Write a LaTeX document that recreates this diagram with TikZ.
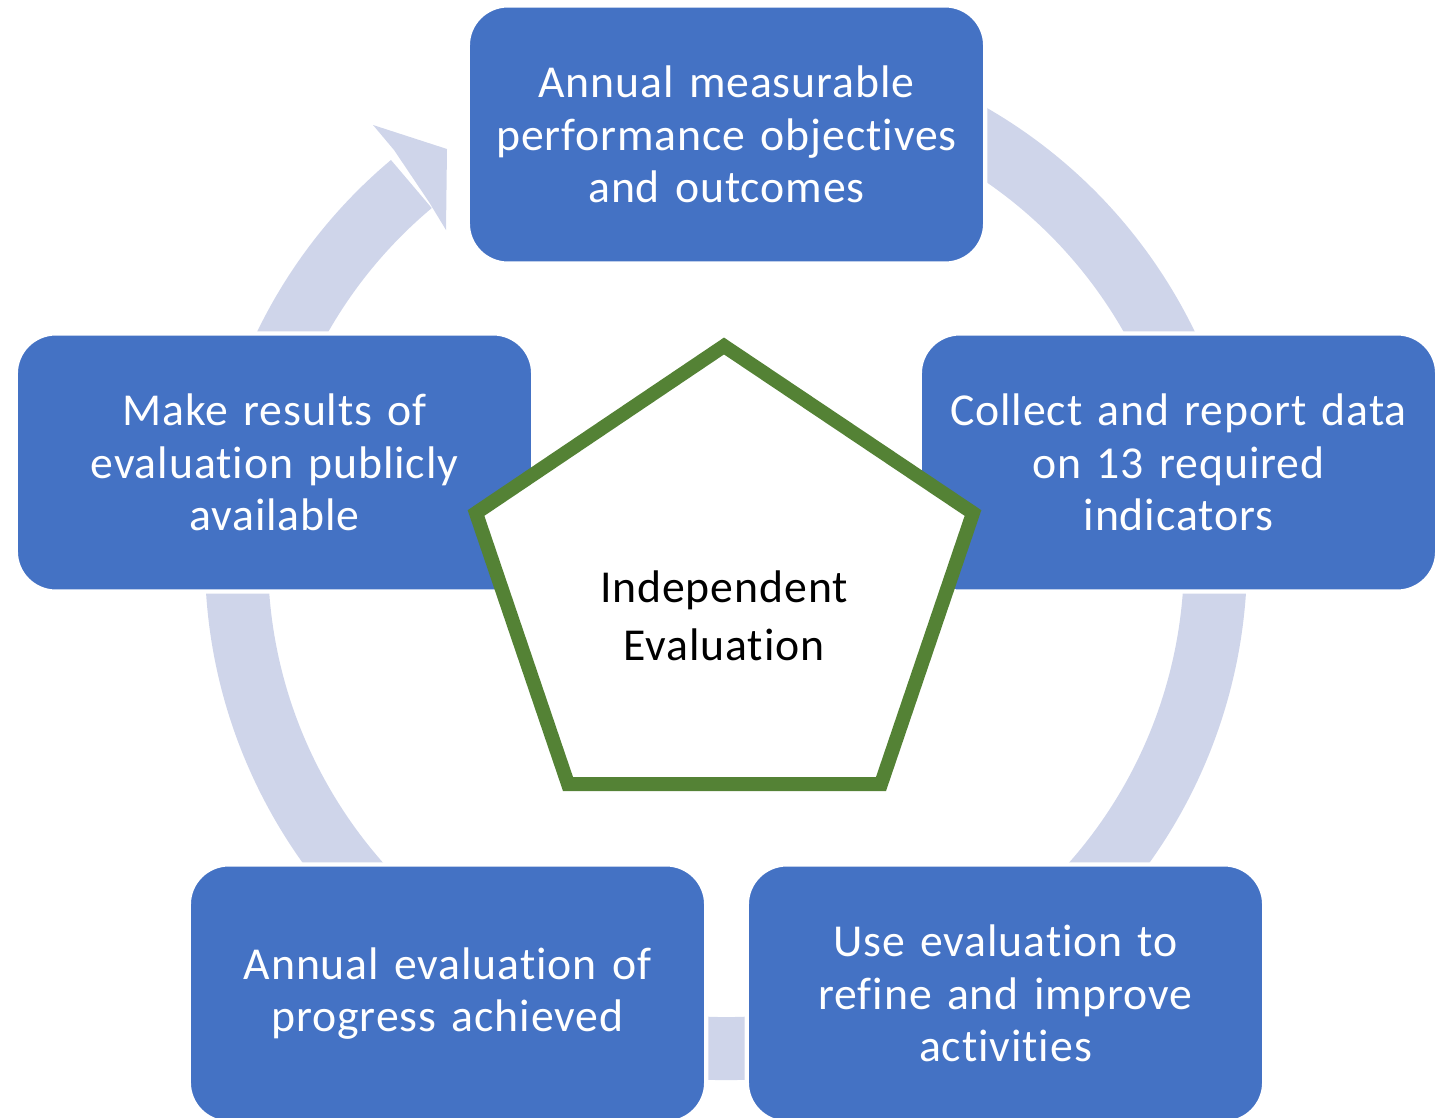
\documentclass[tikz,border=0pt]{standalone}
\usepackage{fontspec}
\setmainfont{Carlito}[Ligatures=NoCommon,LetterSpace=2,WordSpace=0.85]
\usetikzlibrary{calc}
\definecolor{boxblue}{RGB}{68,114,196}
\definecolor{ringblue}{RGB}{207,213,234}
\definecolor{pentgreen}{RGB}{84,130,53}

\begin{document}
\begin{tikzpicture}[x=0.01cm,y=-0.01cm,line join=miter,
stepbox/.style={draw=white,line width=1.2pt,fill=boxblue,rounded corners=0.4cm,
minimum width=5.17cm,minimum height=2.58cm,text width=5cm,align=center,
text=white,inner sep=0pt,font=\fontsize{13}{15}\selectfont}]
\useasboundingbox (0,0) rectangle (1445,1118);
\clip (0,0) rectangle (1445,1118);
\coordinate (c) at (726,559);
\draw[ringblue,line width=0.63cm] ($(c)+(-118:489.5)$) arc[start angle=-118,end angle=230,radius=489.5];
\fill[ringblue] (394,150) -- (373,125) -- (447,149) -- (446,230) -- (429,202) -- cycle;
\node[stepbox] (obj) at (726.5,134.5) {Annual measurable\\performance objectives\\and outcomes};
\node[stepbox] (data) at (1178.5,462.5) {Collect and report data\\on 13 required\\indicators};
\node[stepbox] (use) at (1005.5,993.5) {Use evaluation to\\refine and improve\\activities};
\node[stepbox] (prog) at (447.5,993.5) {Annual evaluation of\\progress achieved};
\node[stepbox] (pub) at (274.5,462.5) {Make results of\\evaluation publicly\\available};
\draw[pentgreen,line width=0.14cm,fill=white] (724,346) -- (973,513) -- (881,784) -- (568,784) -- (476,513) -- cycle;
\node[align=center,font=\fontsize{13}{16.5}\selectfont] (eval) at (724,616) {Independent\\Evaluation};
\end{tikzpicture}
\end{document}
